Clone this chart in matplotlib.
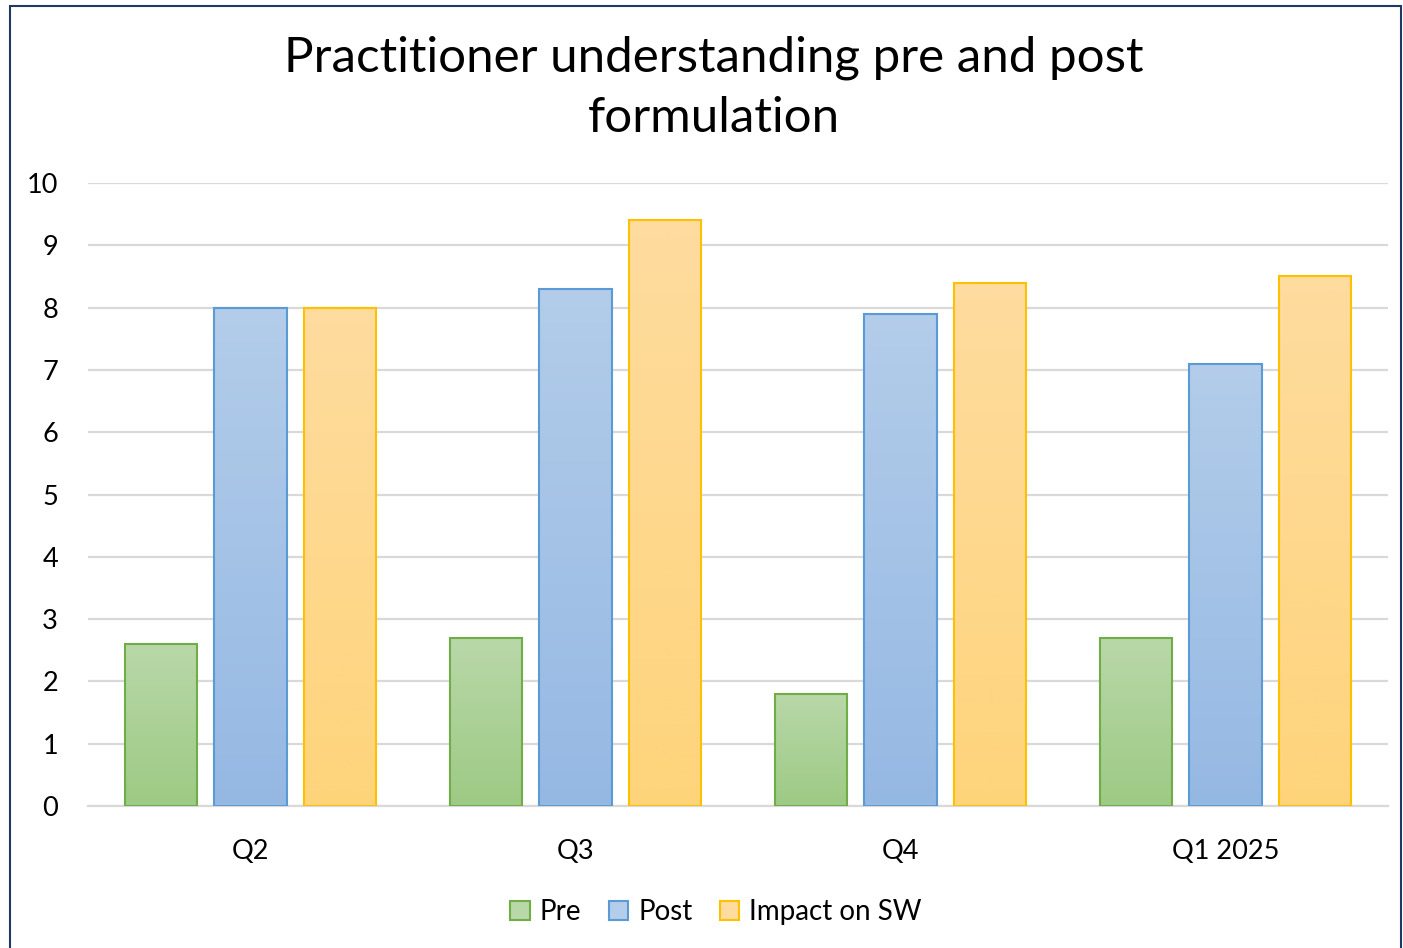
import numpy as np
from matplotlib import pyplot as plt
from matplotlib.colors import LinearSegmentedColormap
from matplotlib.patches import Rectangle

plt.rcParams["font.family"] = ["Lato", "DejaVu Sans"]

categories = ["Q2", "Q3", "Q4", "Q1 2025"]
pre = [2.6, 2.7, 1.8, 2.7]
post = [8.0, 8.3, 7.9, 7.1]
impact = [8.0, 9.4, 8.4, 8.5]

series = [
    ("Pre", pre, "#70AD47", ("#9DCA84", "#B9D8A9")),
    ("Post", post, "#5B9BD5", ("#95B8E3", "#B3CDEA")),
    ("Impact on SW", impact, "#FFC000", ("#FED47B", "#FEDC9F")),
]

BAR_WIDTH = 0.222
OFFSET = 0.276

fig = plt.figure(figsize=(14.03, 9.48), dpi=100)
ax = fig.add_axes([88 / 1403, 1 - 806 / 948, 1300 / 1403, 623 / 948])

xs = np.arange(len(categories))
grad = np.linspace(0, 1, 256).reshape(-1, 1)
for i, (name, values, edge, (bottom_c, top_c)) in enumerate(series):
    pos = xs + (i - 1) * OFFSET
    bars = ax.bar(pos, values, width=BAR_WIDTH, color=top_c, edgecolor=edge,
                  linewidth=1.5, label=name, zorder=3)
    cmap = LinearSegmentedColormap.from_list(name, [bottom_c, top_c])
    for b in bars:
        x0, w, h = b.get_x(), b.get_width(), b.get_height()
        ax.imshow(grad, extent=[x0, x0 + w, 0, h], origin="lower",
                  aspect="auto", cmap=cmap, zorder=2.5)
        b.set_facecolor("none")

ax.set_xlim(-0.5, len(categories) - 0.5)
ax.set_ylim(0, 10)
ax.set_yticks(range(0, 11))
ax.set_xticks(xs)
ax.set_xticklabels(categories)
ax.tick_params(axis="both", length=0, labelsize=19.5, colors="black")
ax.tick_params(axis="x", pad=23.5)
ax.tick_params(axis="y", pad=21.5)
ax.grid(axis="y", color="#D9D9D9", linewidth=1.6, zorder=0)
ax.set_axisbelow(True)
for side in ["top", "right", "left"]:
    ax.spines[side].set_visible(False)
ax.spines["bottom"].set_color("#D9D9D9")
ax.spines["bottom"].set_linewidth(1.6)

fig.text(0.509, 1 - 88 / 948, "Practitioner understanding pre and post\nformulation",
         ha="center", va="center", fontsize=35.5, linespacing=1.45)

handles = [Rectangle((0, 0), 1, 1, facecolor=s[3][1], edgecolor=s[2], linewidth=1.5)
           for s in series]
fig.legend(handles, [s[0] for s in series], loc="center",
           bbox_to_anchor=(716 / 1403, 1 - 912 / 948), ncol=3, frameon=False,
           fontsize=20, handlelength=0.7, handleheight=0.7, handletextpad=0.35,
           columnspacing=1.0)

fig.patches.append(Rectangle((10 / 1403, -0.01), 1391 / 1403, 1 - 6 / 948 + 0.01,
                             transform=fig.transFigure, fill=False,
                             edgecolor="#1F3864", linewidth=1.5))

fig.savefig("out.png", dpi=100)
